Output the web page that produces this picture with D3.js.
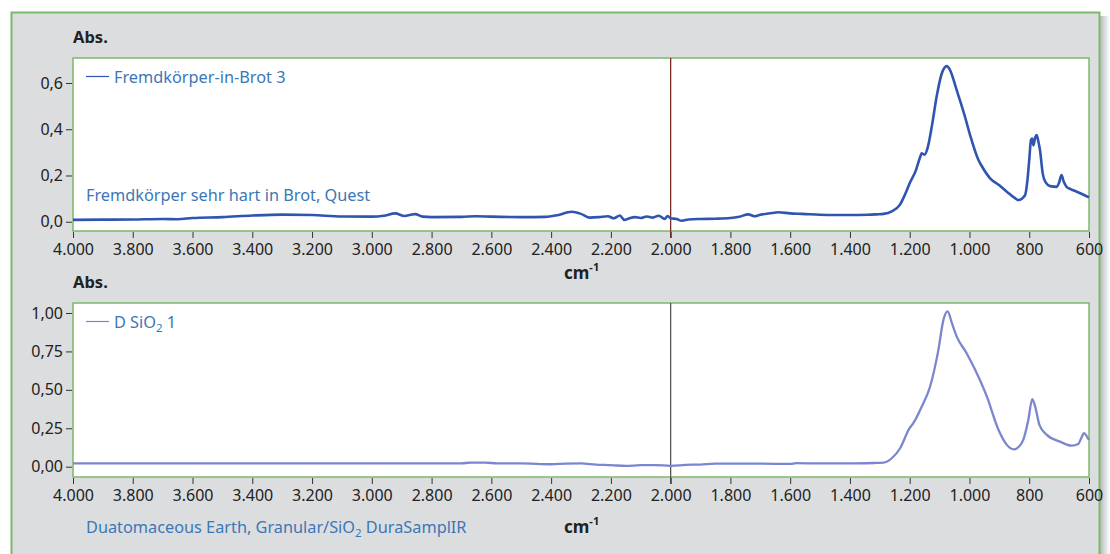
<!DOCTYPE html>
<html>
<head>
<meta charset="utf-8">
<script src="https://cdn.jsdelivr.net/npm/d3@7"></script>
<style>
  body { margin: 0; background: #fff; }
  svg { display: block; font-family: "Noto Sans", sans-serif; }
</style>
</head>
<body>
<svg id="chart" width="1110" height="554"></svg>
<script>
// Fremdkörper-in-Brot 3 (oben)
const topWn = [4000, 3900, 3800, 3700, 3650, 3600, 3500, 3400, 3300, 3200, 3100, 3000, 2960, 2922, 2890, 2870, 2855, 2830, 2800, 2700, 2650, 2600, 2500, 2420, 2380, 2331, 2300, 2270, 2240, 2210, 2190, 2170, 2155, 2140, 2120, 2100, 2080, 2060, 2040, 2020, 2010, 2000, 1980, 1963, 1940, 1900, 1850, 1800, 1770, 1740, 1720, 1700, 1660, 1640, 1600, 1560, 1500, 1450, 1400, 1340, 1310, 1288, 1260, 1232, 1215, 1199, 1180, 1165, 1160, 1150, 1140, 1125, 1110, 1093, 1076, 1065, 1043, 1015, 998, 970, 959, 931, 900, 875, 850, 836, 814, 806, 800, 794, 790, 786, 780, 775, 770, 764, 755, 745, 730, 708, 700, 692, 685, 675, 660, 641, 620, 600];
const topAbs = [0.008, 0.009, 0.010, 0.012, 0.011, 0.016, 0.020, 0.027, 0.031, 0.029, 0.023, 0.022, 0.026, 0.036, 0.025, 0.030, 0.033, 0.022, 0.020, 0.021, 0.024, 0.022, 0.020, 0.021, 0.028, 0.043, 0.034, 0.018, 0.020, 0.024, 0.015, 0.027, 0.008, 0.014, 0.020, 0.016, 0.023, 0.018, 0.026, 0.012, 0.025, 0.015, 0.012, 0.004, 0.010, 0.012, 0.013, 0.016, 0.022, 0.032, 0.024, 0.030, 0.038, 0.041, 0.036, 0.034, 0.030, 0.029, 0.029, 0.030, 0.032, 0.034, 0.045, 0.075, 0.12, 0.17, 0.22, 0.28, 0.296, 0.29, 0.32, 0.42, 0.54, 0.64, 0.673, 0.656, 0.57, 0.454, 0.375, 0.267, 0.241, 0.188, 0.158, 0.13, 0.104, 0.094, 0.115, 0.18, 0.267, 0.354, 0.36, 0.33, 0.365, 0.375, 0.35, 0.31, 0.209, 0.17, 0.154, 0.151, 0.17, 0.202, 0.175, 0.151, 0.14, 0.13, 0.118, 0.105];

// D SiO2 1 (unten)
const botWn = [4000, 3800, 3600, 3400, 3200, 3000, 2800, 2700, 2670, 2620, 2580, 2500, 2400, 2350, 2300, 2250, 2200, 2150, 2100, 2050, 2000, 1950, 1900, 1850, 1800, 1700, 1600, 1580, 1500, 1400, 1320, 1288, 1260, 1232, 1201, 1188, 1160, 1132, 1104, 1087, 1073, 1059, 1043, 1010, 981, 942, 903, 875, 851, 835, 820, 803, 790, 780, 766, 741, 697, 658, 636, 625, 617, 605, 600];
const botAbs = [0.022, 0.022, 0.022, 0.022, 0.022, 0.022, 0.022, 0.022, 0.026, 0.026, 0.022, 0.022, 0.016, 0.020, 0.021, 0.014, 0.010, 0.005, 0.010, 0.010, 0.006, 0.012, 0.014, 0.020, 0.020, 0.020, 0.018, 0.023, 0.021, 0.022, 0.024, 0.026, 0.055, 0.12, 0.25, 0.283, 0.39, 0.52, 0.76, 0.957, 1.01, 0.935, 0.848, 0.74, 0.63, 0.457, 0.24, 0.142, 0.113, 0.13, 0.174, 0.305, 0.44, 0.39, 0.272, 0.207, 0.163, 0.137, 0.148, 0.19, 0.218, 0.19, 0.174];

const xTicks = [4000, 3800, 3600, 3400, 3200, 3000, 2800, 2600, 2400, 2200, 2000, 1800, 1600, 1400, 1200, 1000, 800, 600];
const topTicks = [0, 0.2, 0.4, 0.6];
const botTicks = [0, 0.25, 0.5, 0.75, 1.0];

const de = d3.formatLocale({ decimal: ',', thousands: '.', grouping: [3], currency: ['', ' €'] });

const svg = d3.select('#chart');

// Schatten + Rahmen
const defs = svg.append('defs');
const sh = defs.append('linearGradient').attr('id', 'shadow');
sh.append('stop').attr('offset', '0%').attr('stop-color', '#b9babd');
sh.append('stop').attr('offset', '100%').attr('stop-color', '#fff');
svg.append('rect').attr('x', 1100).attr('y', 16).attr('width', 10).attr('height', 540).attr('fill', 'url(#shadow)');
svg.append('rect')
  .attr('x', 11.5).attr('y', 12.5).attr('width', 1088).attr('height', 560)
  .attr('fill', '#dcdddf').attr('stroke', '#7cb86c').attr('stroke-width', 2);

const x = d3.scaleLinear().domain([4000, 600]).range([73, 1089]);

function panel(opt) {
  const y = d3.scaleLinear().domain(opt.yDomain).range([opt.bottom, opt.top]);

  svg.append('rect')
    .attr('x', 73).attr('y', opt.top).attr('width', 1016).attr('height', opt.bottom - opt.top)
    .attr('fill', '#fff').attr('stroke', '#7cb86c').attr('stroke-width', 1.5);

  // Markierung bei 2000 cm-1
  svg.append('line')
    .attr('x1', x(2000)).attr('x2', x(2000))
    .attr('y1', opt.top).attr('y2', opt.bottom + 7)
    .attr('stroke', opt.markColor).attr('stroke-width', 1.3);

  const yAxis = svg.append('g')
    .attr('transform', 'translate(72,0)')
    .call(d3.axisLeft(y).tickValues(opt.yTicks).tickSize(6).tickPadding(3).tickFormat(de.format(opt.yFmt)));
  const xAxis = svg.append('g')
    .attr('transform', `translate(0,${opt.bottom + 1})`)
    .call(d3.axisBottom(x).tickValues(xTicks).tickSize(6).tickPadding(6).tickFormat(de.format(',.0f')));
  [yAxis, xAxis].forEach(a => {
    a.select('.domain').remove();
    a.selectAll('line').attr('stroke', '#333');
    a.selectAll('text').attr('fill', '#222').style('font-size', '16px').style('font-family', '"Noto Sans", sans-serif');
  });

  const pts = opt.wn.map((w, i) => [w, opt.abs[i]]);
  svg.append('path')
    .datum(pts)
    .attr('fill', 'none')
    .attr('stroke', opt.color)
    .attr('stroke-width', opt.width)
    .attr('stroke-linejoin', 'round')
    .attr('d', d3.line().x(d => x(d[0])).y(d => y(d[1])).curve(d3.curveMonotoneX));

  svg.append('text')
    .attr('x', 73).attr('y', opt.top - 15)
    .attr('font-weight', 'bold').attr('font-size', 16.5).attr('fill', '#222')
    .text('Abs.');

  // Legende
  svg.append('line')
    .attr('x1', 86).attr('x2', 109).attr('y1', opt.top + 18.5).attr('y2', opt.top + 18.5)
    .attr('stroke', opt.color).attr('stroke-width', 1.2);
  return y;
}

panel({
  top: 58, bottom: 231, yDomain: [-0.040, 0.708], yTicks: topTicks, yFmt: '.1f',
  wn: topWn, abs: topAbs, color: '#2f55b0', width: 2.6, markColor: '#7a2b22'
});
panel({
  top: 303, bottom: 477, yDomain: [-0.067, 1.065], yTicks: botTicks, yFmt: '.2f',
  wn: botWn, abs: botAbs, color: '#7b86cf', width: 2.3, markColor: '#555'
});

const blue = '#3b77b6';
const fs = 16.3;
svg.append('text').attr('x', 114).attr('y', 83).attr('fill', blue).attr('font-size', fs)
  .text('Fremdkörper-in-Brot 3');
svg.append('text').attr('x', 86).attr('y', 201).attr('fill', blue).attr('font-size', fs)
  .text('Fremdkörper sehr hart in Brot, Quest');

const lg2 = svg.append('text').attr('x', 114).attr('y', 328).attr('fill', blue).attr('font-size', fs);
lg2.append('tspan').text('D SiO');
lg2.append('tspan').attr('font-size', 11.5).attr('dy', 4).text('2');
lg2.append('tspan').attr('dy', -4).text(' 1');

const cap = svg.append('text').attr('x', 86).attr('y', 533).attr('fill', blue).attr('font-size', fs);
cap.append('tspan').text('Duatomaceous Earth, Granular/SiO');
cap.append('tspan').attr('font-size', 11.5).attr('dy', 4).text('2');
cap.append('tspan').attr('dy', -4).text(' DuraSamplIR');

// Achsentitel cm-1
[279, 533].forEach(yy => {
  const t = svg.append('text').attr('x', 564).attr('y', yy)
    .attr('font-weight', 'bold').attr('font-size', 17).attr('fill', '#222');
  t.append('tspan').text('cm');
  t.append('tspan').attr('font-size', 11).attr('dy', -8).text('-1');
});
</script>
</body>
</html>
